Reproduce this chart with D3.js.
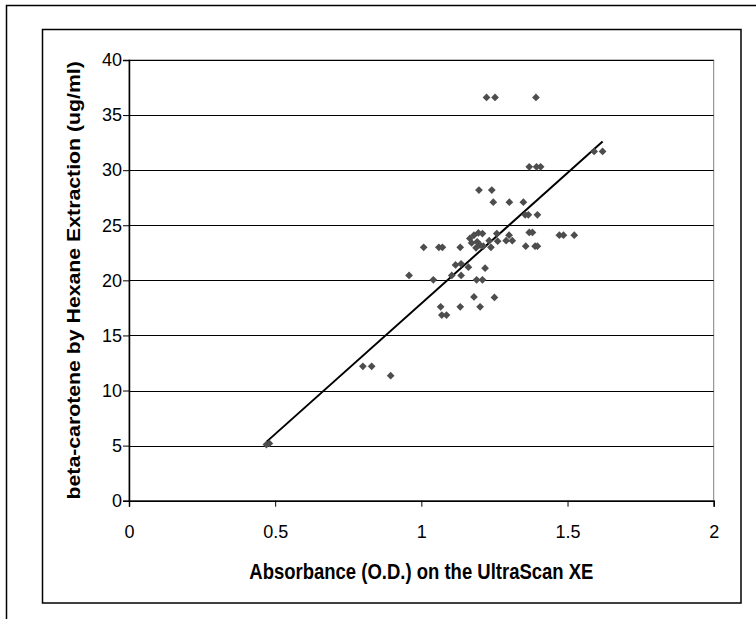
<!DOCTYPE html>
<html>
<head>
<meta charset="utf-8">
<script src="https://cdn.jsdelivr.net/npm/d3@7"></script>
<style>
  body { margin: 0; background: #fff; }
  svg { display: block; font-family: "Liberation Sans", Arial, sans-serif; }
</style>
</head>
<body>
<svg id="chart"></svg>
<script>
// absorbance (O.D.)
var absorbance = [0.47, 0.48, 0.80, 0.83, 0.895, 0.958, 1.008, 1.041, 1.060, 1.072,
                  1.066, 1.070, 1.086, 1.104, 1.117, 1.133, 1.136, 1.136, 1.133, 1.161,
                  1.166, 1.172, 1.180, 1.180, 1.187, 1.189, 1.191, 1.195, 1.197, 1.201,
                  1.201, 1.209, 1.209, 1.212, 1.218, 1.223, 1.232, 1.238, 1.241, 1.246,
                  1.250, 1.252, 1.258, 1.261, 1.290, 1.300, 1.301, 1.311, 1.349, 1.355,
                  1.357, 1.366, 1.369, 1.369, 1.380, 1.389, 1.392, 1.394, 1.397, 1.397,
                  1.408, 1.472, 1.486, 1.523, 1.591, 1.620];
// beta-carotene by hexane extraction (ug/ml)
var carotene = [5.1, 5.2, 12.2, 12.2, 11.35, 20.45, 23.0, 20.05, 23.0, 23.0,
                17.6, 16.85, 16.85, 20.45, 21.4, 23.0, 21.5, 20.45, 17.6, 21.2,
                23.8, 23.4, 24.1, 18.5, 22.95, 20.05, 23.5, 24.3, 28.2, 23.2,
                17.6, 24.25, 20.05, 23.1, 21.1, 36.6, 23.6, 23.0, 28.2, 27.1,
                18.45, 36.6, 24.25, 23.55, 23.6, 24.1, 27.1, 23.6, 27.1, 25.95,
                23.1, 25.95, 24.35, 30.3, 24.35, 23.1, 36.6, 30.3, 25.95, 23.1,
                30.3, 24.1, 24.1, 24.1, 31.7, 31.7];

var xTicks = [0, 0.5, 1, 1.5, 2];
var yTicks = [0, 5, 10, 15, 20, 25, 30, 35, 40];

// linear trendline as drawn in the picture
var trendSlope = 23.7;
var trendIntercept = -5.8;

var xTitle = "Absorbance (O.D.) on the UltraScan XE";
var yTitle = "beta-carotene by Hexane Extraction (ug/ml)";

function drawChart(width, height) {
    var svg = d3.select("#chart")
                .attr("width", width)
                .attr("height", height);

    // outer frame (cut off by the picture edge) and chart frame
    svg.append("path")
        .attr("d", "M6.5," + height + "V5.5H" + width)
        .attr("fill", "none")
        .attr("stroke", "#000")
        .attr("stroke-width", 1.5);
    svg.append("rect")
        .attr("x", 42.5).attr("y", 29.5)
        .attr("width", 698.5).attr("height", 573.5)
        .attr("fill", "none")
        .attr("stroke", "#000")
        .attr("stroke-width", 1.5);

    var x = d3.scaleLinear().domain([0, 2]).range([129, 713.7]);
    var y = d3.scaleLinear().domain([0, 40]).range([500.7, 60]);

    // plot area border
    svg.append("rect")
        .attr("x", x(0)).attr("y", y(40))
        .attr("width", x(2) - x(0)).attr("height", y(0) - y(40))
        .attr("fill", "none")
        .attr("stroke", "#808080");

    // gridlines
    svg.append("g")
        .selectAll("line")
        .data(yTicks.filter(d => d > 0))
        .enter()
        .append("line")
        .attr("x1", x(0)).attr("x2", x(2))
        .attr("y1", d => Math.round(y(d)) + 0.5)
        .attr("y2", d => Math.round(y(d)) + 0.5)
        .attr("stroke", "#000");

    var yAxis = svg.append("g")
        .attr("transform", "translate(" + x(0) + ",0)")
        .call(d3.axisLeft(y).tickValues(yTicks).tickSize(6).tickPadding(1)
                .tickFormat(d => String(d)));
    var xAxis = svg.append("g")
        .attr("transform", "translate(0," + y(0) + ")")
        .call(d3.axisBottom(x).tickValues(xTicks).tickSize(6).tickPadding(19)
                .tickFormat(d => String(d)));

    [xAxis, yAxis].forEach(a => {
        a.select(".domain").attr("stroke", "#000").attr("stroke-width", 1.5);
        a.selectAll(".tick line").attr("stroke", "#000");
        a.selectAll(".tick text")
            .attr("fill", "#000")
            .attr("font-size", "18px")
            .attr("font-family", "'Liberation Sans', Arial, sans-serif");
    });

    // trendline across the data range
    var xr = d3.extent(absorbance);
    svg.append("line")
        .attr("x1", x(xr[0])).attr("y1", y(trendSlope * xr[0] + trendIntercept))
        .attr("x2", x(xr[1])).attr("y2", y(trendSlope * xr[1] + trendIntercept))
        .attr("stroke", "#000")
        .attr("stroke-width", 2);

    var points = absorbance.map((d, i) => ({x: d, y: carotene[i]}));
    var diamond = d3.symbol().type(d3.symbolSquare).size(30);
    svg.append("g")
        .selectAll("path")
        .data(points)
        .enter()
        .append("path")
        .attr("d", diamond)
        .attr("transform", d => "translate(" + x(d.x) + "," + y(d.y) + ") rotate(45)")
        .attr("fill", "#4d4d4d");

    // titles: the picture is stretched a little in height
    svg.append("text")
        .attr("transform", "translate(" + (x(0) + x(2)) / 2 + ",579) scale(1,1.15)")
        .attr("text-anchor", "middle")
        .attr("font-size", "18.5px")
        .attr("font-weight", "bold")
        .text(xTitle);

    svg.append("text")
        .attr("transform", "translate(80," + (y(0) + y(40)) / 2 + ") scale(1,1.15) rotate(-90)")
        .attr("text-anchor", "middle")
        .attr("font-size", "18.5px")
        .attr("font-weight", "bold")
        .text(yTitle);
}

drawChart(756, 619);
</script>
</body>
</html>
